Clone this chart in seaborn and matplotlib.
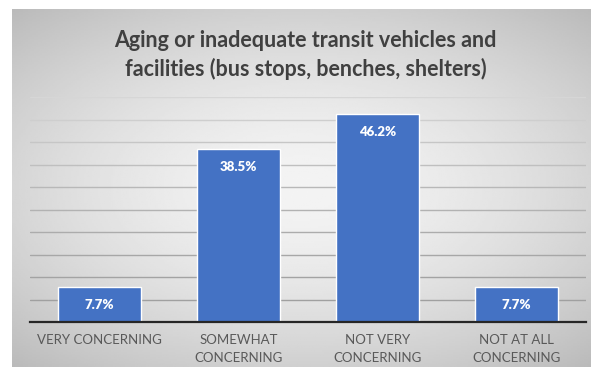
import numpy as np
import pandas as pd
import matplotlib
matplotlib.use("Agg")
import matplotlib.pyplot as plt
import seaborn as sns

title = "Aging or inadequate transit vehicles and\nfacilities (bus stops, benches, shelters)"
categories = ["VERY CONCERNING", "SOMEWHAT\nCONCERNING", "NOT VERY\nCONCERNING", "NOT AT ALL\nCONCERNING"]
shares = [7.7, 38.5, 46.2, 7.7]
value_labels = ["7.7%", "38.5%", "46.2%", "7.7%"]

df = pd.DataFrame({"category": categories, "share": shares})

sns.set_theme(style="white")
plt.rcParams["font.family"] = ["Lato", "DejaVu Sans"]

fig = plt.figure(figsize=(5.99, 3.75), dpi=100)
fig.patch.set_facecolor("white")

# gray panel with a soft radial gradient
bg = fig.add_axes([12 / 599, 8 / 375, 579 / 599, 358 / 375])
yy, xx = np.mgrid[-1:1:200j, -1:1:300j]
r = np.sqrt((xx * 0.9) ** 2 + (yy * 1.0) ** 2)
shade = 0.955 - 0.14 * np.clip(r, 0, 1.4) ** 1.6
bg.imshow(shade, cmap="gray", vmin=0, vmax=1, aspect="auto", extent=[0, 1, 0, 1])
bg.set_axis_off()

ax = fig.add_axes([30 / 599, (375 - 322) / 375, 556 / 599, 225 / 375])
ax.patch.set_alpha(0)
sns.barplot(data=df, x="category", y="share", color="#4472C4", width=0.59,
            saturation=1, ax=ax, zorder=3)
ax.set_ylim(0, 50)
ax.set_yticks([])
# horizontal guide lines, fading toward the top of the panel
for lvl in np.arange(5, 51, 5):
    g = 0.62 + 0.22 * (lvl / 50) ** 1.5
    ax.axhline(lvl, color=(g, g, g), linewidth=1.0, zorder=1)
ax.tick_params(axis="x", length=0, pad=9, labelsize=9.5, labelcolor="#595959")
for t in ax.get_xticklabels():
    t.set_linespacing(1.55)
ax.set_xlabel("")
ax.set_ylabel("")
for s in ["top", "right", "left"]:
    ax.spines[s].set_visible(False)
ax.spines["bottom"].set_color("#262626")
ax.spines["bottom"].set_linewidth(1.6)
ax.spines["bottom"].set_zorder(4)

for i, (v, lab) in enumerate(zip(shares, value_labels)):
    ax.annotate(lab, (i, v), xytext=(0, -13), textcoords="offset points",
                ha="center", va="center", color="white", fontsize=9.5,
                fontweight="heavy", zorder=5)

fig.text(0.51, 0.853, title, ha="center", va="center", fontsize=15.5,
         fontweight="bold", color="#404040", linespacing=1.35)

fig.savefig("out.png", dpi=100, facecolor="white")
